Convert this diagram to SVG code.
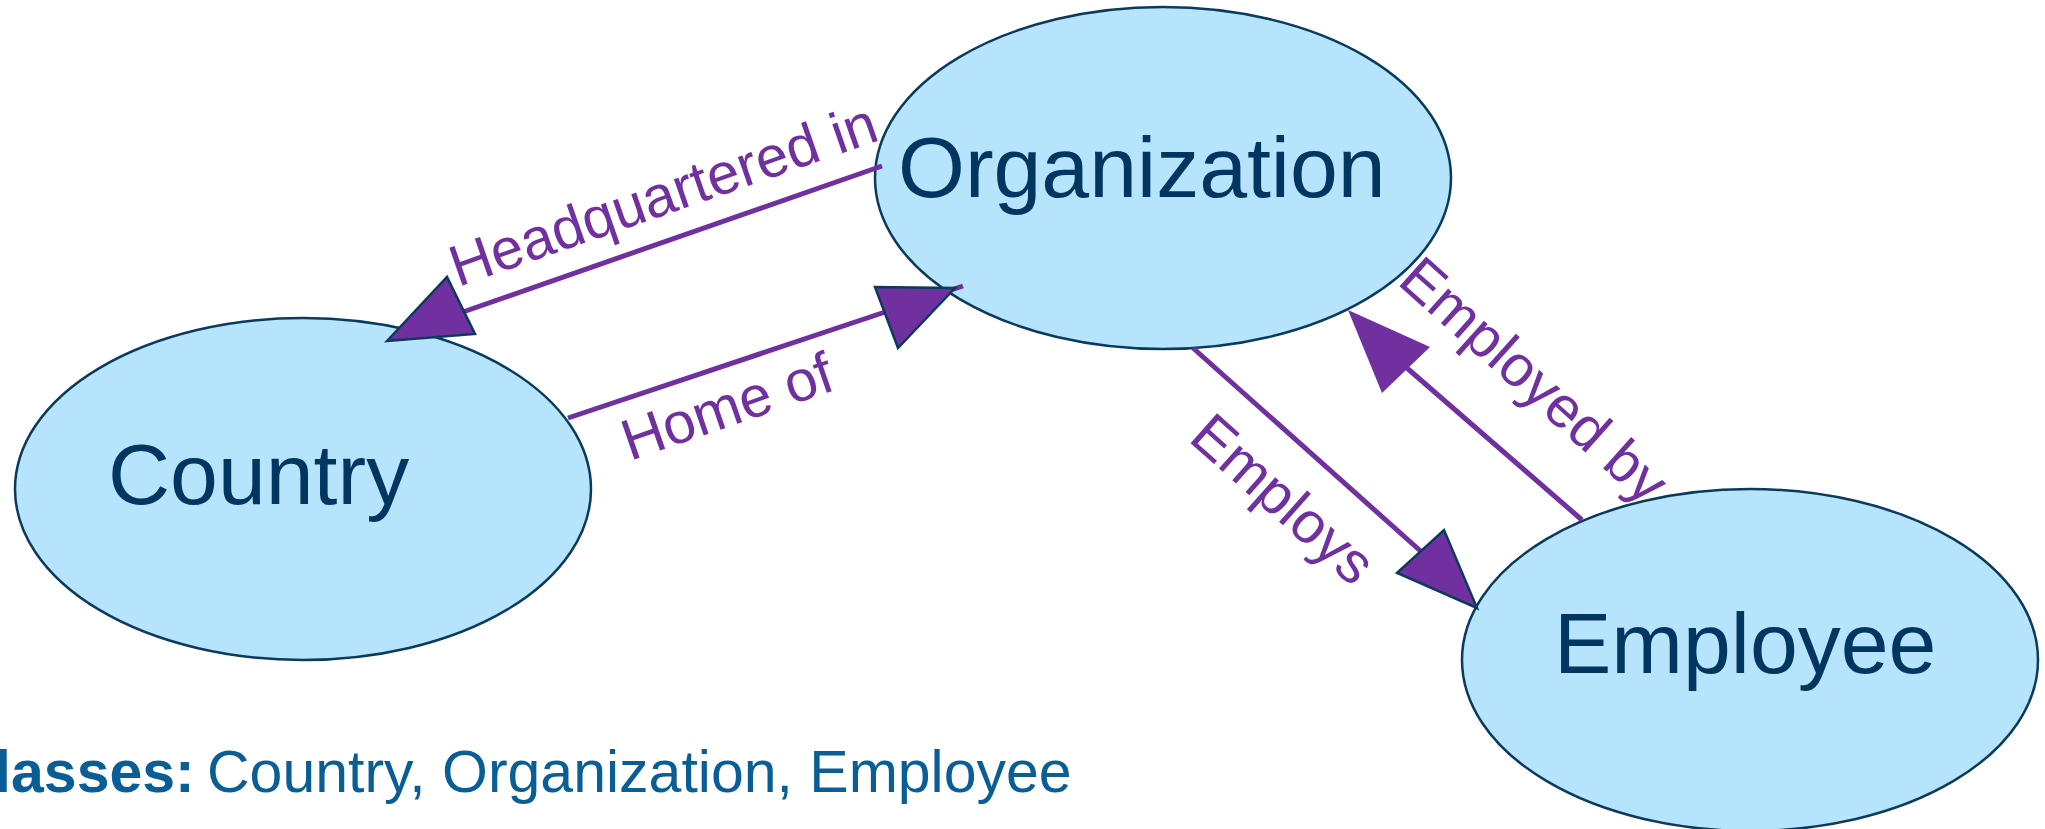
<svg xmlns="http://www.w3.org/2000/svg" width="2045" height="829" viewBox="0 0 2045 829">
  <style>
    .node { fill: #b6e4fc; stroke: #0b3a5c; stroke-width: 2.5; }
    .node-text { font-family: "Liberation Sans", Arial, sans-serif; font-size: 86px; fill: #003660; }
    .edge { stroke: #7030a0; stroke-width: 5; fill: none; }
    .head { fill: #7030a0; stroke: #0b3a5c; stroke-width: 2.5; stroke-linejoin: miter; }
    .head-plain { fill: #7030a0; stroke: none; }
    .edge-label { font-family: "Liberation Sans", Arial, sans-serif; font-size: 58px; fill: #7030a0; }
    .legend { font-family: "Liberation Sans", Arial, sans-serif; font-size: 59px; fill: #0a5e96; }
  </style>
  <rect width="2045" height="829" fill="#ffffff"/>

  <!-- relation labels sit beneath the class ellipses -->
  <g id="edge-labels">
    <text class="edge-label" x="458" y="287" transform="rotate(-19.2 458 287)">Headquartered in</text>
    <text class="edge-label" x="630" y="461" transform="rotate(-19.1 630 461)">Home of</text>
    <text class="edge-label" x="1187" y="440" transform="rotate(41.6 1187 440)">Employs</text>
    <text class="edge-label" x="1396" y="283" transform="rotate(41.8 1396 283)">Employed by</text>
  </g>

  <g id="node-country">
    <ellipse class="node" cx="303" cy="489" rx="288" ry="171"/>
    <text class="node-text" x="108" y="504">Country</text>
  </g>
  <g id="node-organization">
    <ellipse class="node" cx="1163" cy="178" rx="288" ry="171"/>
    <text class="node-text" x="898" y="197">Organization</text>
  </g>
  <g id="node-employee">
    <ellipse class="node" cx="1750" cy="660" rx="288" ry="171"/>
    <text class="node-text" x="1554" y="673">Employee</text>
  </g>

  <g id="connectors">
    <!-- Organization -> Country : Headquartered in -->
    <line class="edge" x1="882" y1="166" x2="460" y2="313"/>
    <polygon class="head" points="387,341 447,277 475,334"/>
    <!-- Country -> Organization : Home of -->
    <line class="edge" x1="568" y1="418" x2="963" y2="286"/>
    <polygon class="head" points="955,288 875,287 898,348"/>
    <!-- Organization -> Employee : Employs -->
    <line class="edge" x1="1193" y1="348" x2="1425" y2="555"/>
    <polygon class="head" points="1477,608 1444,530 1397,573"/>
    <!-- Employee -> Organization : Employed by -->
    <line class="edge" x1="1582" y1="520" x2="1400" y2="362"/>
    <polygon class="head-plain" points="1348,310 1430,347 1382,393"/>
  </g>

  <g id="legend">
    <text class="legend" y="792"><tspan x="-48" font-weight="bold">Classes:</tspan><tspan x="207">Country, Organization, Employee</tspan></text>
  </g>
</svg>
